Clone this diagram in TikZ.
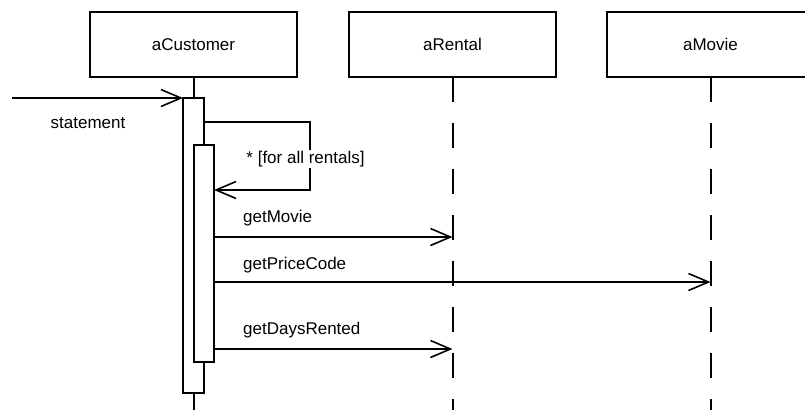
\documentclass[tikz,border=0pt]{standalone}
\usepackage{fontspec}
\setmainfont{Liberation Sans}
\usetikzlibrary{arrows.meta}
\begin{document}
\begin{tikzpicture}[x=1pt,y=-1pt,
  obj/.style={draw, line width=2pt, minimum width=207pt, minimum height=65pt,
    inner sep=0pt, outer sep=0pt, font=\fontsize{17}{20}\selectfont},
  actbar/.style={draw, fill=white, line width=2pt, inner sep=0pt, outer sep=0pt},
  life/.style={line width=2pt},
  dashlife/.style={line width=2pt, dash pattern=on 25pt off 21pt},
  msg/.style={line width=1.8pt, -{Straight Barb[length=20pt,width=17pt,line width=1.6pt]}},
  lbl/.style={font=\fontsize{17}{20}\selectfont, inner sep=1pt}]
  \useasboundingbox (0,0) rectangle (805,410);
  \clip (0,0) rectangle (805,410);

  % object boxes
  \node[obj] (cust)  at (193.5,44.5) {aCustomer};
  \node[obj] (rent)  at (452.5,44.5) {aRental};
  \node[obj] (movie) at (710.5,44.5) {aMovie};

  % lifeline ends at the bottom edge
  \coordinate (custEnd)  at (193.5,410);
  \coordinate (rentEnd)  at (452.5,410);
  \coordinate (movieEnd) at (710.5,410);

  % dashed lifelines of the two passive objects
  \draw[dashlife] (rent.south) -- (rentEnd);
  \draw[dashlife] (movie.south) -- (movieEnd);

  % customer lifeline with its activation bars
  \node[actbar, minimum width=21pt, minimum height=295pt] (act1) at (193.5,245.5) {};
  \draw[life] (cust.south) -- (act1.north);
  \draw[life] (act1.south) -- (custEnd);
  \node[actbar, minimum width=20pt, minimum height=217pt] (act2) at (204,253.5) {};

  % incoming statement call
  \coordinate (src) at (12,98);
  \draw[msg] (src) -- (act1.north west);
  \node[lbl] (stmt) at (88,123) {statement};

  % iteration over rentals (self call)
  \coordinate (loopA) at (204,122);
  \coordinate (loopB) at (310,122);
  \coordinate (loopC) at (310,190);
  \coordinate (loopD) at (214,190);
  \draw[msg] (loopA) -- (loopB) -- (loopC) -- (loopD);
  \node[lbl, fill=white] (iter) at (305.5,159) {* [for all rentals]};

  % calls to the rental and the movie
  \coordinate (m1) at (214,237);
  \coordinate (m1e) at (452.5,237);
  \draw[msg] (m1) -- (m1e);
  \node[lbl, anchor=west] (l1) at (242,218) {getMovie};

  \coordinate (m2) at (214,282);
  \coordinate (m2e) at (710.5,282);
  \draw[msg] (m2) -- (m2e);
  \node[lbl, anchor=west] (l2) at (242,265) {getPriceCode};

  \coordinate (m3) at (214,349);
  \coordinate (m3e) at (452.5,349);
  \draw[msg] (m3) -- (m3e);
  \node[lbl, anchor=west] (l3) at (242,330) {getDaysRented};
\end{tikzpicture}
\end{document}
